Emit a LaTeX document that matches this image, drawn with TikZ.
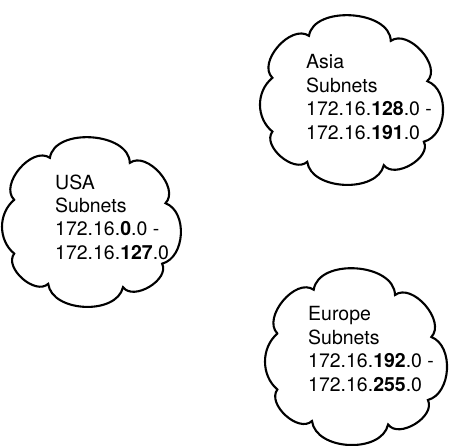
\documentclass[tikz,border=0pt]{standalone}
\usepackage{fontspec}
\setmainfont{TeX Gyre Heros}

% cloud outline in a unit box, y pointing up
\newcommand{\netcloud}[4]{%
  \begin{scope}[shift={(#1,#2)},xscale=#3,yscale=#4]
    \draw[line width=2.1pt,line join=miter]
      (0.06,0.62) to[bend left=85] (0.27,0.87) to[bend left=85] (0.74,0.84)
      to[bend left=85] (0.95,0.60) to[bend left=72] (0.93,0.24)
      to[bend left=85] (0.70,0.10) to[bend left=80] (0.26,0.12)
      to[bend left=85] (0.06,0.30) to[bend left=50] cycle;
  \end{scope}}

\begin{document}
\begin{tikzpicture}[x=1pt,y=1pt,
  nettext/.style={anchor=west,align=left,inner sep=0pt,font=\fontsize{19.5}{23.4}\selectfont}]
\useasboundingbox (0,0) rectangle (464,446);
% boxes given as left, bottom, width, height (y up)
\netcloud{262}{264}{174}{168}
\netcloud{4}{142}{170}{168}
\netcloud{267}{4}{173}{175}
\node[nettext] (asiatext) at (306,349) {Asia\\Subnets\\172.16.\textbf{128}.0 -\\172.16.\textbf{191}.0};
\node[nettext] (usatext) at (55,229) {USA\\Subnets\\172.16.\textbf{0}.0 -\\172.16.\textbf{127}.0};
\node[nettext] (europetext) at (308,97) {Europe\\Subnets\\172.16.\textbf{192}.0 -\\172.16.\textbf{255}.0};
\end{tikzpicture}
\end{document}
